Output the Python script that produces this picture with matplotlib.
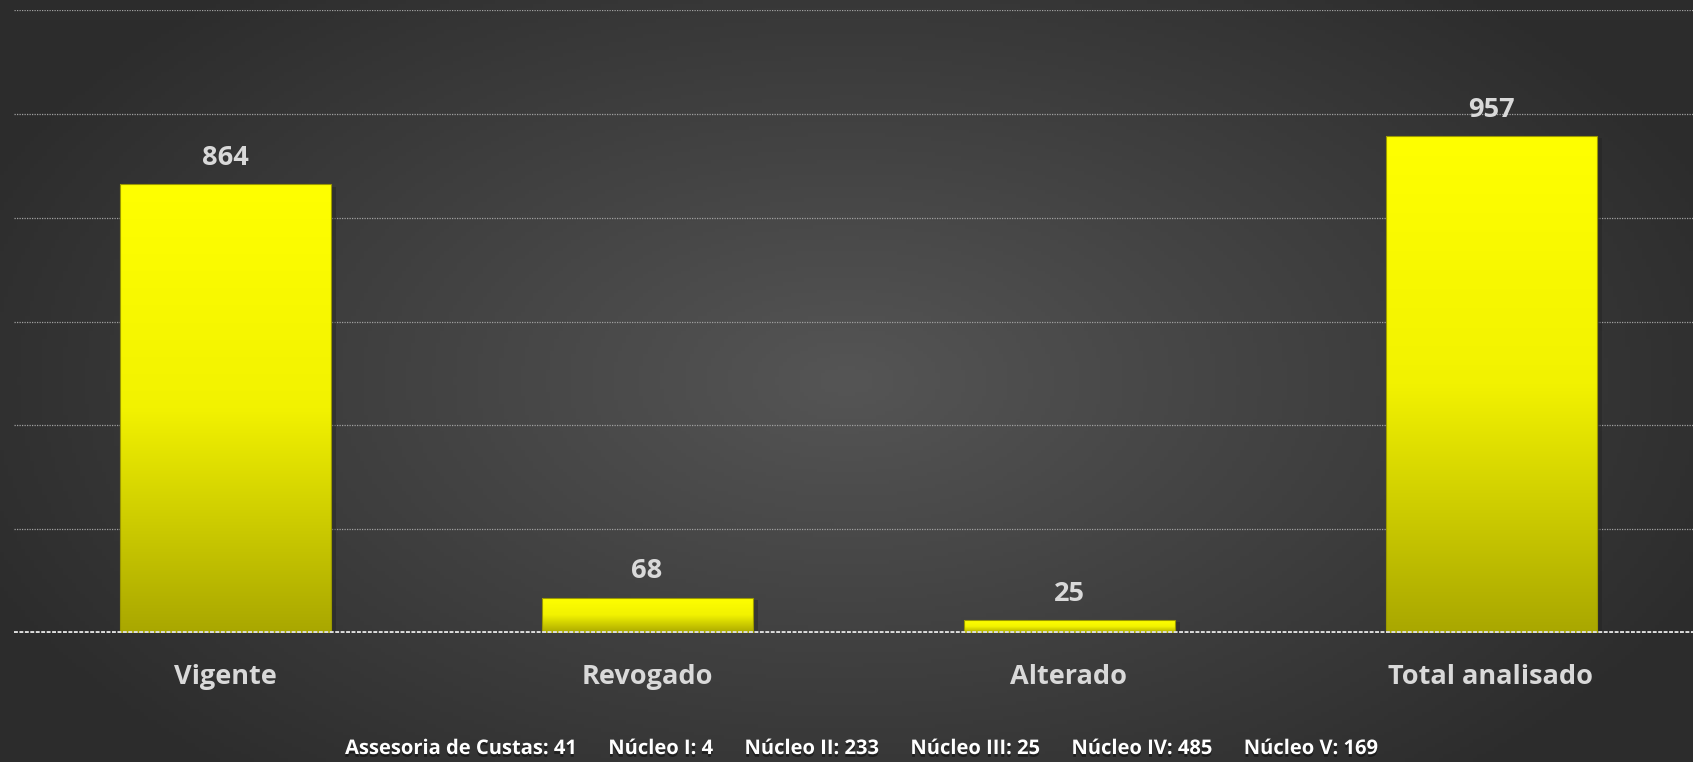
import numpy as np
import matplotlib.pyplot as plt
import matplotlib.patheffects as pe
from matplotlib.colors import LinearSegmentedColormap

categories = ["Vigente", "Revogado", "Alterado", "Total analisado"]
values = [864, 68, 25, 957]
footer_items = ["Assesoria de Custas: 41", "Núcleo I: 4", "Núcleo II: 233",
                "Núcleo III: 25", "Núcleo IV: 485", "Núcleo V: 169"]

plt.rcParams['font.family'] = ['Open Sans', 'DejaVu Sans']

W, H = 1693, 762
fig = plt.figure(figsize=(W / 100, H / 100), dpi=100)

# background gradient, lighter in the middle
bg = fig.add_axes([0, 0, 1, 1])
yy, xx = np.mgrid[0:1:200j, 0:1:400j]
r = np.sqrt(((xx - 0.5) / 0.8) ** 2 + ((yy - 0.5) / 1.0) ** 2)
bg_cmap = LinearSegmentedColormap.from_list("bg", ["#555555", "#2c2c2c"])
bg.imshow(r, cmap=bg_cmap, aspect="auto", extent=[0, 1, 0, 1], vmin=0, vmax=0.7)
bg.set_axis_off()

ax = fig.add_axes([14 / W, 129 / H, 1688 / W, 623 / H])
ax.patch.set_alpha(0)
ax.set_xlim(-0.5, 3.5)
ax.set_ylim(0, 1200)
for s in ax.spines.values():
    s.set_visible(False)
ax.set_yticks([])
ax.set_xticks([])

for yv in range(200, 1201, 200):
    ax.axhline(yv, color="#a0a0a0", lw=0.9, ls=(0, (1, 1)), zorder=1)

bar_cmap = LinearSegmentedColormap.from_list("bar", ["#a9a700", "#f2f200", "#ffff00"])
grad = np.linspace(0, 1, 256).reshape(-1, 1)
width = 0.5
x = np.arange(len(categories))
for xi, v in zip(x, values):
    # soft shadow
    ax.bar(xi + 0.008, v, width=width + 0.01, bottom=-4, color="#1e1e1e", alpha=0.35, zorder=2)
    im = ax.imshow(grad, cmap=bar_cmap, origin="lower", aspect="auto",
                   extent=[xi - width / 2, xi + width / 2, 0, v], zorder=3)
    rect = ax.bar(xi, v, width=width, color="none", edgecolor="#9a9800", lw=0.8, zorder=4)[0]
    im.set_clip_path(rect)
    ax.text(xi, v + 26, str(v), ha="center", va="bottom", fontsize=19.5,
            fontweight="bold", color="#d9d9d9", zorder=5)

ax.set_xlim(-0.5, 3.5)
ax.set_ylim(0, 1200)
ax.axhline(0, color="#dcdcdc", lw=2.8, ls=(0, (1, 0.4)), zorder=6)

for xi, c in zip(x, categories):
    ax.text(xi, -84, c, ha="center", va="center", fontsize=19.5, fontweight="bold",
            color="#d9d9d9", clip_on=False)

footer = "      ".join(footer_items)
fig.text(0.509, 13 / H, footer, ha="center", va="center", fontsize=14.5, fontweight="bold",
         color="white",
         path_effects=[pe.withSimplePatchShadow(offset=(0, -2), shadow_rgbFace="#111111", alpha=0.6)])

fig.savefig("out.png", dpi=100)
